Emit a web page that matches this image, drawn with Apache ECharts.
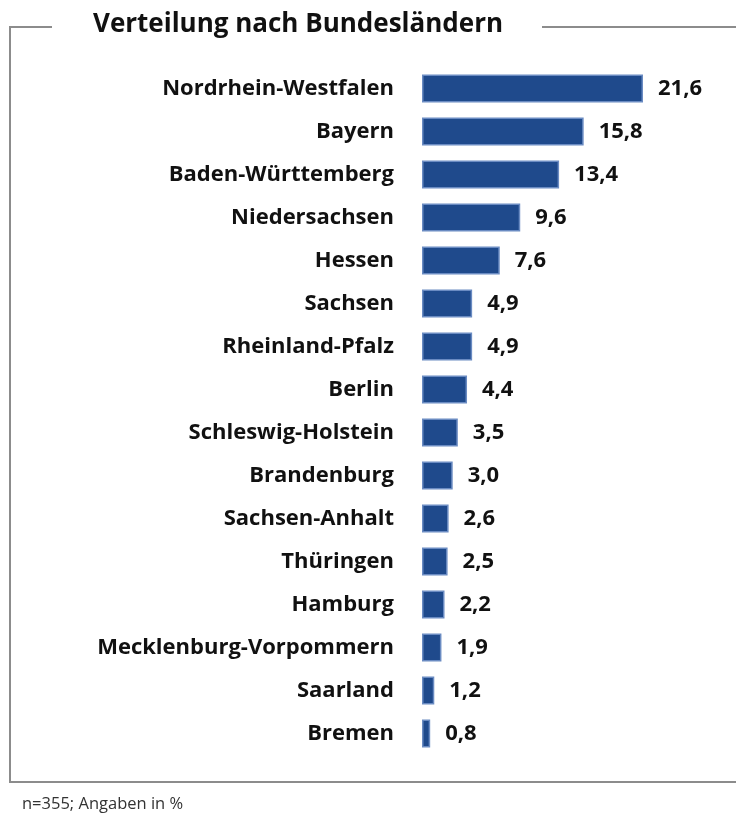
<!DOCTYPE html>
<html>
<head>
<meta charset="utf-8">
<script src="https://cdn.jsdelivr.net/npm/echarts@6/dist/echarts.min.js"></script>
<style>
  html, body { margin: 0; padding: 0; background: #ffffff; }
  #chart { width: 736px; height: 821px; }
</style>
</head>
<body>
<div id="chart"></div>
<script>
// Federal states, top to bottom
const categories = [
  'Nordrhein-Westfalen', 'Bayern', 'Baden-Württemberg', 'Niedersachsen',
  'Hessen', 'Sachsen', 'Rheinland-Pfalz', 'Berlin', 'Schleswig-Holstein',
  'Brandenburg', 'Sachsen-Anhalt', 'Thüringen', 'Hamburg',
  'Mecklenburg-Vorpommern', 'Saarland', 'Bremen'
];
// Share of respondents per state, in percent
const shares = [21.6, 15.8, 13.4, 9.6, 7.6, 4.9, 4.9, 4.4, 3.5, 3.0, 2.6, 2.5, 2.2, 1.9, 1.2, 0.8];

const titleText = 'Verteilung nach Bundesländern';
const footnote = 'n=355; Angaben in %';

const FONT = '"Open Sans", "DejaVu Sans", sans-serif';
const frameColor = '#8c8c8c';

const chart = echarts.init(document.getElementById('chart'), null, { renderer: 'canvas' });

const fmt = v => v.toFixed(1).replace('.', ',');

chart.setOption({
  backgroundColor: '#ffffff',
  animation: false,
  title: {
    text: titleText,
    left: 88,
    top: 7,
    textStyle: { fontFamily: FONT, fontSize: 26, fontWeight: 'bold', color: '#111111' }
  },
  grid: { left: 422, top: 67, width: 221, height: 688, containLabel: false },
  xAxis: {
    type: 'value',
    min: 0,
    max: 21.6,
    show: false
  },
  yAxis: {
    type: 'category',
    data: categories,
    inverse: true,
    axisLine: { show: false },
    axisTick: { show: false },
    axisLabel: {
      margin: 28,
      fontFamily: FONT,
      fontSize: 22,
      fontWeight: 'bold',
      color: '#111111'
    }
  },
  series: [{
    type: 'bar',
    data: shares,
    barWidth: 28,
    itemStyle: { color: '#1f4a8c', borderColor: '#6a8bc2', borderWidth: 1.5 },
    label: {
      show: true,
      position: 'right',
      distance: 15,
      formatter: p => fmt(p.value),
      fontFamily: FONT,
      fontSize: 22,
      fontWeight: 'bold',
      color: '#111111'
    }
  }],
  graphic: [
    {
      type: 'polyline',
      shape: { points: [[52, 27], [10, 27], [10, 782], [736, 782]] },
      style: { stroke: frameColor, lineWidth: 2, fill: null }
    },
    {
      type: 'line',
      shape: { x1: 542, y1: 27, x2: 736, y2: 27 },
      style: { stroke: frameColor, lineWidth: 2 }
    },
    {
      type: 'text',
      left: 22,
      top: 796,
      style: { text: footnote, fontFamily: FONT, fontSize: 16.5, fill: '#333333' }
    }
  ]
});
</script>
</body>
</html>
